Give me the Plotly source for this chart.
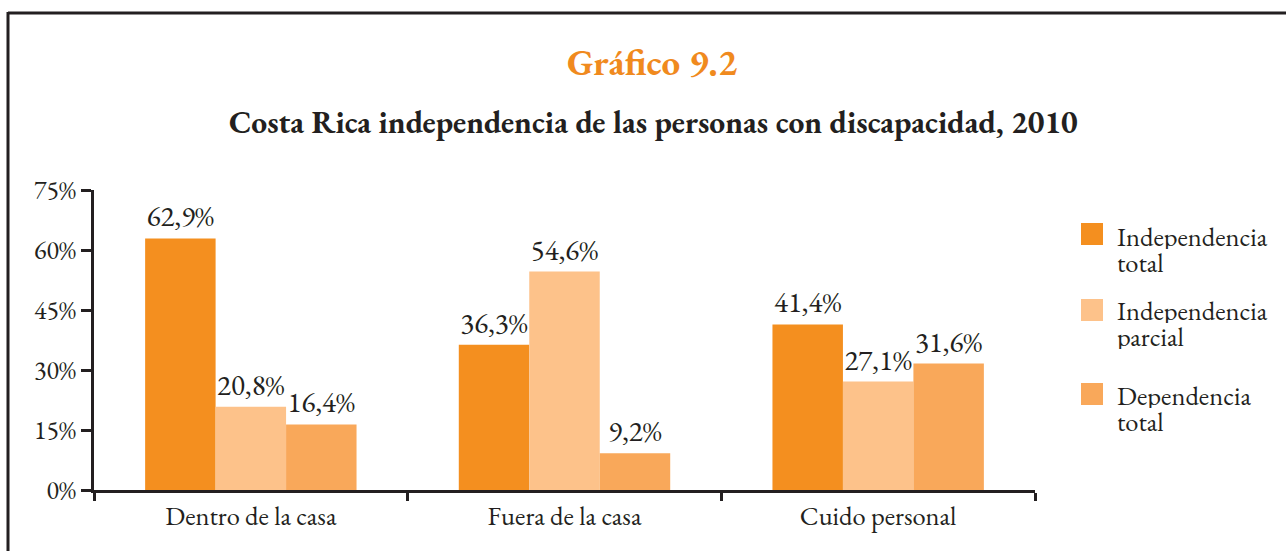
import plotly.graph_objects as go

categories = ["Dentro de la casa", "Fuera de la casa", "Cuido personal"]
series_names = ["Independencia total", "Independencia parcial", "Dependencia total"]
legend_lines = [["Independencia", "total"], ["Independencia", "parcial"], ["Dependencia", "total"]]
independencia_total = [62.9, 36.3, 41.4]
independencia_parcial = [20.8, 54.6, 27.1]
dependencia_total = [16.4, 9.2, 31.6]
y_ticks = [0, 15, 30, 45, 60, 75]
y_tick_labels = ["0%", "15%", "30%", "45%", "60%", "75%"]

colors = ["#F48F1F", "#FDC28A", "#F9A85A"]
series_values = [independencia_total, independencia_parcial, dependencia_total]

FONT = "EB Garamond, Garamond, Liberation Serif, serif"
TXT = "#231F20"

W, H = 1286, 551
X0, X1, Y0, Y1 = 94, 1035, 190, 490


def px(x):
    return (x - X0) / (X1 - X0)


def py(y):
    return (Y1 - y) / (Y1 - Y0)


fig = go.Figure()
for name, vals, col in zip(series_names, series_values, colors):
    fig.add_trace(go.Bar(
        x=categories, y=vals, name=name, marker=dict(color=col, line=dict(width=0)),
        texttemplate="%{y:.1f}%", textposition="outside", cliponaxis=False,
        textfont=dict(family=FONT, size=29, color=TXT), showlegend=False,
    ))

shapes = [
    dict(type="line", xref="paper", yref="paper", x0=px(8), x1=px(1300), y0=py(13), y1=py(13),
         line=dict(color=TXT, width=3)),
    dict(type="line", xref="paper", yref="paper", x0=px(8), x1=px(8), y0=py(12), y1=py(560),
         line=dict(color=TXT, width=3)),
]
annotations = [
    dict(text="<b>Gráfico 9.2</b>", xref="paper", yref="paper", x=px(652), y=py(62),
         xanchor="center", yanchor="middle", showarrow=False,
         font=dict(family=FONT, size=37, color="#F08A1E")),
    dict(text="<b>Costa Rica independencia de las personas con discapacidad, 2010</b>",
         xref="paper", yref="paper", x=px(653), y=py(121), xanchor="center", yanchor="middle",
         showarrow=False, font=dict(family=FONT, size=31.5, color=TXT)),
]
leg_tops = [223, 299, 383]
leg_text_centers = [236, 310, 395]
for lines, col, top, tc in zip(legend_lines, colors, leg_tops, leg_text_centers):
    shapes.append(dict(type="rect", xref="paper", yref="paper", x0=px(1081), x1=px(1103),
                       y0=py(top), y1=py(top + 22), fillcolor=col, line=dict(width=0)))
    for i, line in enumerate(lines):
        annotations.append(dict(text=line, xref="paper", yref="paper", x=px(1116),
                                y=py(tc + 26 * i), xanchor="left", yanchor="middle",
                                align="left", valign="middle", height=26, borderpad=0,
                                showarrow=False,
                                font=dict(family=FONT, size=26.5, color=TXT)))

fig.update_layout(
    width=W, height=H, autosize=False,
    margin=dict(l=X0, r=W - X1, t=Y0, b=H - Y1, pad=0),
    paper_bgcolor="white", plot_bgcolor="white",
    separators=",.",
    barmode="group", bargap=0.326, bargroupgap=0,
    font=dict(family=FONT, size=26, color=TXT),
    shapes=shapes, annotations=annotations,
    xaxis=dict(showline=True, linecolor=TXT, linewidth=3, ticks="outside", ticklen=8,
               tickwidth=3, tickcolor=TXT, tickson="boundaries", showgrid=False,
               tickfont=dict(family=FONT, size=26.5, color=TXT)),
    yaxis=dict(range=[0, 75], tickmode="array", tickvals=y_ticks, ticktext=y_tick_labels,
               showline=True, linecolor=TXT,
               linewidth=3, ticks="outside", ticklen=10, tickwidth=3, tickcolor=TXT,
               showgrid=False, zeroline=False,
               tickfont=dict(family=FONT, size=26, color=TXT)),
)

fig.write_html("out.html")
